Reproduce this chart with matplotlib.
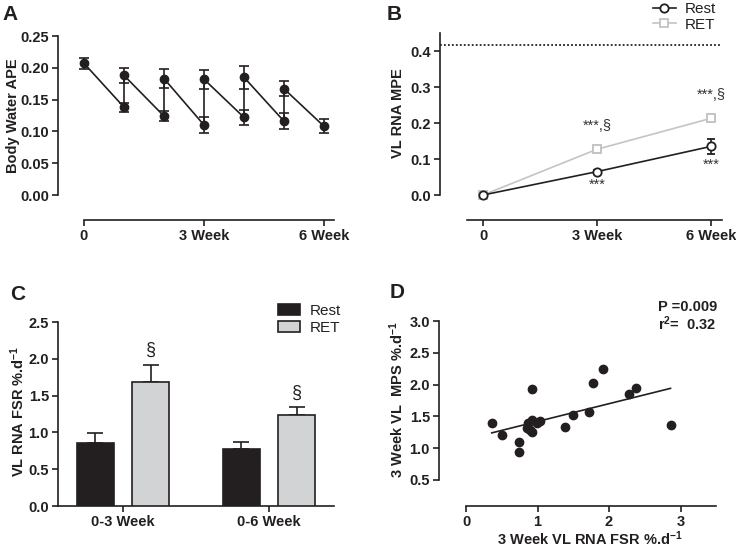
import matplotlib
matplotlib.use("Agg")
import matplotlib.pyplot as plt
from matplotlib.lines import Line2D
from matplotlib.patches import Patch
import numpy as np

plt.rcParams['font.family'] = ['Liberation Sans', 'DejaVu Sans']
plt.rcParams['mathtext.fontset'] = 'custom'
plt.rcParams['mathtext.rm'] = 'Liberation Sans'
plt.rcParams['mathtext.bf'] = 'Liberation Sans:bold'
plt.rcParams['mathtext.it'] = 'Liberation Sans:italic'

# ---------------- data ----------------
# Panel A: body water APE, each weekly dose segment start -> end
a_start_weeks = [0, 1, 2, 3, 4, 5]
a_start_vals = [0.207, 0.188, 0.183, 0.182, 0.185, 0.167]
a_start_err = [0.009, 0.012, 0.015, 0.015, 0.018, 0.012]
a_end_weeks = [1, 2, 3, 4, 5, 6]
a_end_vals = [0.138, 0.124, 0.110, 0.122, 0.116, 0.108]
a_end_err = [0.007, 0.008, 0.013, 0.012, 0.013, 0.011]
a_xticks = [0, 3, 6]
a_xticklabels = ['0', '3 Week', '6 Week']

# Panel B: VL RNA MPE
b_weeks = [0, 3, 6]
b_rest = [0.0, 0.065, 0.135]
b_rest_err = [0.0, 0.004, 0.020]
b_ret = [0.0, 0.127, 0.213]
b_ret_err = [0.0, 0.010, 0.009]
b_plateau = 0.418
b_ret_annot = ['***,§', '***,§']
b_rest_annot = ['***', '***']

# Panel C: VL RNA FSR
c_groups = ['0-3 Week', '0-6 Week']
c_rest = [0.86, 0.78]
c_rest_err = [0.13, 0.09]
c_ret = [1.69, 1.23]
c_ret_err = [0.23, 0.11]

# Panel D: correlation
d_x = [0.36, 0.51, 0.74, 0.74, 0.92, 0.92, 0.87, 0.85, 0.90, 0.92,
       0.99, 1.03, 1.38, 1.50, 1.72, 1.78, 1.91, 2.28, 2.38, 2.86]
d_y = [1.40, 1.20, 1.10, 0.94, 1.93, 1.45, 1.39, 1.31, 1.29, 1.25,
       1.39, 1.43, 1.33, 1.52, 1.57, 2.02, 2.24, 1.85, 1.95, 1.37]
d_slope = 0.28
d_intercept = 1.14
d_p_text = 'P =0.009'
d_r2_text = 'r$^{\\mathbf{2}}$=  0.32'

# ---------------- layout ----------------
W, H = 736, 555
fig = plt.figure(figsize=(W / 100, H / 100), dpi=100)


def px_axes(left, top, right, bottom):
    return fig.add_axes([left / W, 1 - bottom / H, (right - left) / W, (bottom - top) / H])


TICK_FS = 10.5
LAB_FS = 10.5
LW = 1.2
INK = '#231f20'


def style(ax):
    for s in ['top', 'right']:
        ax.spines[s].set_visible(False)
    for s in ['left', 'bottom']:
        ax.spines[s].set_linewidth(LW)
        ax.spines[s].set_color(INK)
    ax.tick_params(axis='both', direction='out', length=4.5, width=LW,
                   labelsize=TICK_FS, color=INK, pad=2)
    for lab in ax.get_xticklabels() + ax.get_yticklabels():
        lab.set_fontweight('bold')
        lab.set_color(INK)


# ---------------- Panel A ----------------
axA = px_axes(58, 36, 334, 220)
axA.set_xlim(-0.65, 6.25)
axA.set_ylim(-0.0393, 0.25)
# sawtooth line: start -> end of each week, then vertical jump to next dose
saw_x, saw_y = [], []
for xs, ys, xe, ye in zip(a_start_weeks, a_start_vals, a_end_weeks, a_end_vals):
    saw_x += [xs, xe]
    saw_y += [ys, ye]
axA.plot(saw_x, saw_y, color=INK, lw=LW)
axA.errorbar(a_start_weeks, a_start_vals, yerr=a_start_err, fmt='o', color=INK,
             ms=6, capsize=3.5, elinewidth=LW, capthick=LW)
axA.errorbar(a_end_weeks, a_end_vals, yerr=a_end_err, fmt='o', color=INK,
             ms=6, capsize=3.5, elinewidth=LW, capthick=LW)
axA.set_yticks([0, 0.05, 0.10, 0.15, 0.20, 0.25])
axA.set_yticklabels(['0.00', '0.05', '0.10', '0.15', '0.20', '0.25'])
axA.set_xticks(a_xticks)
axA.set_xticklabels(a_xticklabels)
axA.spines['left'].set_bounds(0, 0.25)
axA.spines['bottom'].set_bounds(0, 6.25)
style(axA)
fig.text(13 / W, 1 - 116 / H, 'Body Water APE', rotation=90, ha='center', va='center',
         fontsize=LAB_FS, fontweight='bold', color=INK)

# ---------------- Panel B ----------------
axB = px_axes(440, 33, 722, 220)
axB.set_xlim(-1.132, 6.29)
axB.set_ylim(-0.0694, 0.45)
axB.axhline(b_plateau, color=INK, lw=1.3, ls=(0, (1, 1.2)))
REST_C = INK
RET_C = '#c4c4c4'
axB.plot(b_weeks, b_ret, color=RET_C, lw=LW, zorder=2)
axB.errorbar(b_weeks, b_ret, yerr=b_ret_err, fmt='s', color=RET_C, mfc='white', mec=RET_C,
             ms=6, mew=1.4, capsize=3, elinewidth=LW, capthick=LW, zorder=3)
axB.plot(b_weeks, b_rest, color=REST_C, lw=LW, zorder=4)
axB.errorbar(b_weeks, b_rest, yerr=b_rest_err, fmt='o', color=REST_C, mfc='white', mec=REST_C,
             ms=6, mew=1.3, capsize=3, elinewidth=LW, capthick=LW, zorder=5)
for i, t in enumerate(b_ret_annot):
    axB.text(b_weeks[i + 1], b_ret[i + 1] + b_ret_err[i + 1] + 0.035, t, ha='center', va='bottom',
             fontsize=10.5, color='#333333')
for i, t in enumerate(b_rest_annot):
    axB.text(b_weeks[i + 1], b_rest[i + 1] - b_rest_err[i + 1] - 0.012, t, ha='center', va='top',
             fontsize=10.5, color='#333333')
axB.set_yticks([0, 0.1, 0.2, 0.3, 0.4])
axB.set_yticklabels(['0.0', '0.1', '0.2', '0.3', '0.4'])
axB.set_xticks(b_weeks)
axB.set_xticklabels(['0', '3 Week', '6 Week'])
axB.spines['left'].set_bounds(0, 0.45)
axB.spines['bottom'].set_bounds(-0.42, 6.29)
style(axB)
fig.text(398 / W, 1 - 113 / H, 'VL RNA MPE', rotation=90, ha='center', va='center',
         fontsize=LAB_FS, fontweight='bold', color=INK)
b_handles = [Line2D([], [], color=REST_C, lw=LW, marker='o', mfc='white', mec=REST_C, ms=6, mew=1.3),
             Line2D([], [], color=RET_C, lw=LW, marker='s', mfc='white', mec=RET_C, ms=6, mew=1.3)]
legB = fig.legend(b_handles, ['Rest', 'RET'], loc='upper left', bbox_to_anchor=(653 / W, 1 - 2 / H),
                  frameon=False, fontsize=11, handlelength=1.5, handletextpad=0.6,
                  labelspacing=0.1, borderpad=0.0, borderaxespad=0)
for t in legB.get_texts():
    t.set_color(INK)

# ---------------- Panel C ----------------
axC = px_axes(58, 322, 334, 506)
axC.set_xlim(-0.445, 1.445)
axC.set_ylim(0, 2.5)
xc = np.arange(len(c_groups))
bw = 0.255
off = 0.19
axC.bar(xc - off, c_rest, width=bw, color=INK, edgecolor=INK, lw=LW, zorder=3)
axC.errorbar(xc - off, c_rest, yerr=[np.zeros(2), c_rest_err], fmt='none', ecolor=INK,
             capsize=6, elinewidth=LW, capthick=LW, zorder=2)
axC.bar(xc + off, c_ret, width=bw, color='#d1d3d4', edgecolor=INK, lw=LW, zorder=3)
axC.errorbar(xc + off, c_ret, yerr=[np.zeros(2), c_ret_err], fmt='none', ecolor=INK,
             capsize=6, elinewidth=LW, capthick=LW, zorder=2)
for i in range(len(c_groups)):
    axC.text(xc[i] + off, c_ret[i] + c_ret_err[i] + 0.08, '§', ha='center', va='bottom',
             fontsize=13, color=INK)
axC.set_yticks([0, 0.5, 1.0, 1.5, 2.0, 2.5])
axC.set_yticklabels(['0.0', '0.5', '1.0', '1.5', '2.0', '2.5'])
axC.set_xticks(xc)
axC.set_xticklabels(c_groups)
style(axC)
fig.text(18 / W, 1 - 411 / H, 'VL RNA FSR %.d$^{\\mathbf{-1}}$', rotation=90, ha='center', va='center',
         fontsize=LAB_FS, fontweight='bold', color=INK)
c_handles = [Patch(facecolor=INK, edgecolor=INK, lw=LW),
             Patch(facecolor='#d1d3d4', edgecolor=INK, lw=LW)]
legC = fig.legend(c_handles, ['Rest', 'RET'], loc='upper left', bbox_to_anchor=(278 / W, 1 - 304 / H),
                  frameon=False, fontsize=11, handlelength=1.45, handleheight=0.75,
                  handletextpad=0.6, labelspacing=0.2, borderpad=0.0, borderaxespad=0)
for t in legC.get_texts():
    t.set_color(INK)

# ---------------- Panel D ----------------
axD = px_axes(439, 321, 717, 506)
axD.set_xlim(-0.378, 3.51)
axD.set_ylim(0.091, 3.0)
axD.plot(d_x, d_y, 'o', color=INK, ms=6, zorder=3)
fx = np.array([min(d_x), max(d_x)])
axD.plot(fx, d_intercept + d_slope * fx, color=INK, lw=LW, zorder=2)
axD.set_yticks([0.5, 1.0, 1.5, 2.0, 2.5, 3.0])
axD.set_yticklabels(['0.5', '1.0', '1.5', '2.0', '2.5', '3.0'])
axD.set_xticks([0, 1, 2, 3])
axD.spines['left'].set_bounds(0.5, 3.0)
axD.spines['bottom'].set_bounds(0, 3.5)
style(axD)
fig.text(397 / W, 1 - 400 / H, '3 Week VL  MPS %.d$^{\\mathbf{-1}}$', rotation=90, ha='center', va='center',
         fontsize=LAB_FS, fontweight='bold', color=INK)
fig.text(590 / W, 1 - 539 / H, '3 Week VL RNA FSR %.d$^{\\mathbf{-1}}$', ha='center', va='center',
         fontsize=LAB_FS, fontweight='bold', color=INK)
fig.text(658 / W, 1 - 307 / H, d_p_text, ha='left', va='center', fontsize=10.5,
         fontweight='bold', color=INK)
fig.text(658 / W, 1 - 324 / H, d_r2_text, ha='left', va='center', fontsize=10.5,
         fontweight='bold', color=INK)

# ---------------- Panel letters ----------------
for letter, x, y in [('A', 2, 14), ('B', 387, 14), ('C', 10, 294), ('D', 390, 292)]:
    fig.text(x / W, 1 - y / H, letter, ha='left', va='center', fontsize=15,
             fontweight='bold', color=INK)

fig.savefig('out.png', dpi=100)
